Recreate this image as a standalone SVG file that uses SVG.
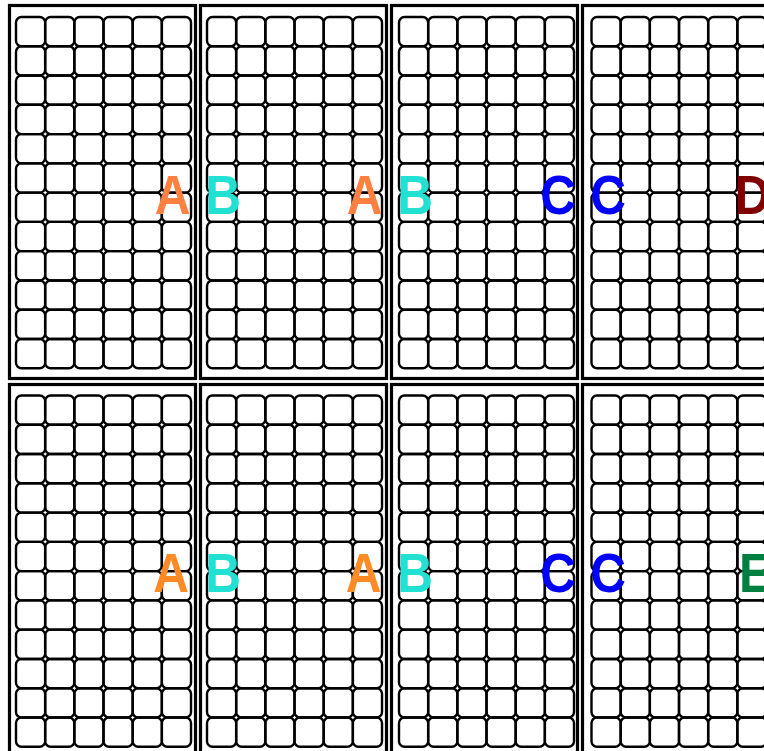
<svg xmlns="http://www.w3.org/2000/svg" xmlns:xlink="http://www.w3.org/1999/xlink" width="764" height="751" viewBox="0 0 764 751">
<style>
.frame{fill:none;stroke:#000;stroke-width:3.2}
.cell{fill:none;stroke:#000;stroke-width:2.4}
.lt{font-family:"Liberation Sans",Arial,Helvetica,sans-serif;font-weight:bold;font-size:55px;text-anchor:middle}
.ls{font-family:"Liberation Sans",Arial,Helvetica,sans-serif;font-weight:bold;font-size:55px;text-anchor:start}
.a{fill:#FF8040}
.a2{fill:#FF8A26}
.b{fill:#22E0D2}
.c{fill:#0000FF}
.d{fill:#800000}
.e{fill:#008040}
</style>
<defs>
<rect id="c" class="cell" width="29.17" height="29.27" rx="5.5"/>
<g id="row">
<use href="#c" xlink:href="#c"/>
<use href="#c" xlink:href="#c" x="29.17"/>
<use href="#c" xlink:href="#c" x="58.34"/>
<use href="#c" xlink:href="#c" x="87.51"/>
<use href="#c" xlink:href="#c" x="116.68"/>
<use href="#c" xlink:href="#c" x="145.85"/>
</g>
<g id="grid">
<use href="#row" xlink:href="#row"/>
<use href="#row" xlink:href="#row" y="29.27"/>
<use href="#row" xlink:href="#row" y="58.54"/>
<use href="#row" xlink:href="#row" y="87.81"/>
<use href="#row" xlink:href="#row" y="117.08"/>
<use href="#row" xlink:href="#row" y="146.35"/>
<use href="#row" xlink:href="#row" y="175.62"/>
<use href="#row" xlink:href="#row" y="204.89"/>
<use href="#row" xlink:href="#row" y="234.16"/>
<use href="#row" xlink:href="#row" y="263.43"/>
<use href="#row" xlink:href="#row" y="292.7"/>
<use href="#row" xlink:href="#row" y="321.97"/>
</g>
</defs>
<rect width="764" height="751" fill="#fff"/>
<g id="panel-1"><rect class="frame" x="9.5" y="5.5" width="186" height="373"/><use href="#grid" xlink:href="#grid" x="16" y="17"/></g>
<g id="panel-2"><rect class="frame" x="200.5" y="5.5" width="186" height="373"/><use href="#grid" xlink:href="#grid" x="207" y="17"/></g>
<g id="panel-3"><rect class="frame" x="391.5" y="5.5" width="186" height="373"/><use href="#grid" xlink:href="#grid" x="399" y="17"/></g>
<g id="panel-4"><rect class="frame" x="582.5" y="5.5" width="186" height="373"/><use href="#grid" xlink:href="#grid" x="591.5" y="17"/></g>
<g id="panel-5"><rect class="frame" x="9.5" y="384.5" width="186" height="373"/><use href="#grid" xlink:href="#grid" x="16" y="395.5"/></g>
<g id="panel-6"><rect class="frame" x="200.5" y="384.5" width="186" height="373"/><use href="#grid" xlink:href="#grid" x="207" y="395.5"/></g>
<g id="panel-7"><rect class="frame" x="391.5" y="384.5" width="186" height="373"/><use href="#grid" xlink:href="#grid" x="399" y="395.5"/></g>
<g id="panel-8"><rect class="frame" x="582.5" y="384.5" width="186" height="373"/><use href="#grid" xlink:href="#grid" x="591.5" y="395.5"/></g>
<g id="labels-top">
<text class="lt a" transform="translate(172.5,213.5) scale(0.9,1)">A</text>
<text class="lt b" transform="translate(223,213.5) scale(0.9,1)">B</text>
<text class="lt a" transform="translate(364.5,213.5) scale(0.9,1)">A</text>
<text class="lt b" transform="translate(415,213.5) scale(0.9,1)">B</text>
<text class="lt c" transform="translate(558,213.5) scale(0.9,1)">C</text>
<text class="lt c" transform="translate(608,213.5) scale(0.9,1)">C</text>
<text class="ls d" transform="translate(734.5,213.5) scale(0.9,1)">D</text>
</g>
<g id="labels-bottom">
<text class="lt a2" transform="translate(171,591.5) scale(0.9,1)">A</text>
<text class="lt b" transform="translate(223,591.5) scale(0.9,1)">B</text>
<text class="lt a2" transform="translate(363.5,591.5) scale(0.9,1)">A</text>
<text class="lt b" transform="translate(415,591.5) scale(0.9,1)">B</text>
<text class="lt c" transform="translate(558,591.5) scale(0.9,1)">C</text>
<text class="lt c" transform="translate(608,591.5) scale(0.9,1)">C</text>
<text class="ls e" transform="translate(739,591.5) scale(0.9,1)">E</text>
</g>
</svg>
